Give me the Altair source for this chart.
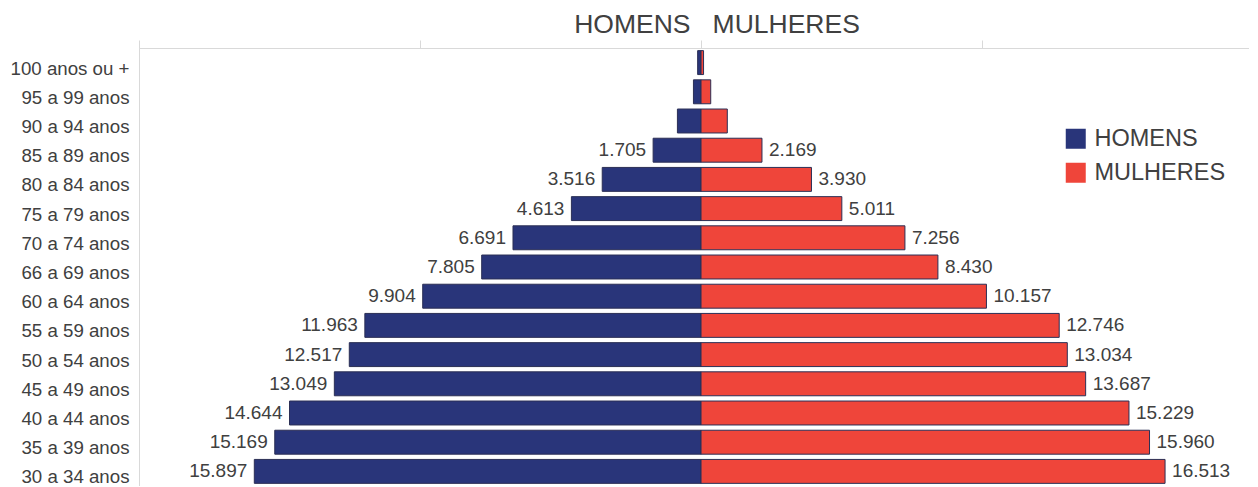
import altair as alt
import pandas as pd

categorias = ["100 anos ou +", "95 a 99 anos", "90 a 94 anos", "85 a 89 anos",
              "80 a 84 anos", "75 a 79 anos", "70 a 74 anos", "66 a 69 anos",
              "60 a 64 anos", "55 a 59 anos", "50 a 54 anos", "45 a 49 anos",
              "40 a 44 anos", "35 a 39 anos", "30 a 34 anos"]
homens = [120, 270, 840, 1705, 3516, 4613, 6691, 7805, 9904, 11963, 12517,
          13049, 14644, 15169, 15897]
mulheres = [90, 345, 935, 2169, 3930, 5011, 7256, 8430, 10157, 12746, 13034,
            13687, 15229, 15960, 16513]
mostrar_rotulo = [False, False, False] + [True] * 12
series = ["HOMENS", "MULHERES"]
cores = ["#29357A", "#EF453A"]


def fmt(v):
    return f"{v:,}".replace(",", ".")


rows = []
for c, h, m, s in zip(categorias, homens, mulheres, mostrar_rotulo):
    rows.append({"categoria": c, "sexo": "HOMENS", "valor": -h,
                 "rotulo": fmt(h) if s else ""})
    rows.append({"categoria": c, "sexo": "MULHERES", "valor": m,
                 "rotulo": fmt(m) if s else ""})
df = pd.DataFrame(rows)

x_enc = alt.X("valor:Q",
              scale=alt.Scale(domain=[-20000, 19500], nice=False, zero=True),
              axis=alt.Axis(orient="top", labels=False, title=None, grid=False,
                            values=[-20000, -10000, 0, 10000, 20000],
                            tickSize=8, tickColor="#d9d9d9",
                            domainColor="#d9d9d9", tickWidth=1, domainWidth=1))
y_enc = alt.Y("categoria:N", sort=categorias,
              scale=alt.Scale(paddingInner=0.18, paddingOuter=0.09),
              axis=alt.Axis(title=None, ticks=False, grid=False,
                            domainColor="#d9d9d9", labelFontSize=18.7,
                            labelColor="#404040", labelPadding=10,
                            labelOffset=6, labelFont="Liberation Sans"))

base = alt.Chart(df)

bars = base.mark_bar(stroke="#2b2f55", strokeWidth=1).encode(
    x=x_enc,
    y=y_enc,
    color=alt.Color("sexo:N",
                    scale=alt.Scale(domain=series, range=cores),
                    legend=alt.Legend(orient="none", legendX=925, legendY=79,
                                      title=None, symbolType="square",
                                      symbolSize=400, symbolStrokeWidth=0,
                                      labelFontSize=23.5, labelColor="#404040",
                                      labelFont="Liberation Sans",
                                      labelOffset=7, rowPadding=9, padding=0)),
)

txt_left = base.transform_filter(alt.datum.sexo == "HOMENS").mark_text(
    align="right", baseline="middle", dx=-7, fontSize=19, color="#404040",
    font="Liberation Sans").encode(
    x=alt.X("valor:Q"), y=alt.Y("categoria:N", sort=categorias),
    text="rotulo:N")

txt_right = base.transform_filter(alt.datum.sexo == "MULHERES").mark_text(
    align="left", baseline="middle", dx=7, fontSize=19, color="#404040",
    font="Liberation Sans").encode(
    x=alt.X("valor:Q"), y=alt.Y("categoria:N", sort=categorias),
    text="rotulo:N")

chart = alt.layer(bars, txt_left, txt_right).properties(
    width=1110, height=438,
    title=alt.TitleParams("HOMENS\u00a0\u00a0\u00a0MULHERES", fontSize=26.5,
                          color="#404040", font="Liberation Sans",
                          fontWeight="normal", anchor="middle", dx=23,
                          offset=1),
    autosize=alt.AutoSizeParams(type="none"),
    padding={"left": 131, "top": 40, "right": 0, "bottom": 0},
).configure_view(stroke=None).configure(font="Liberation Sans")

chart.save("out.html", embed_options={"renderer": "svg", "actions": False})
